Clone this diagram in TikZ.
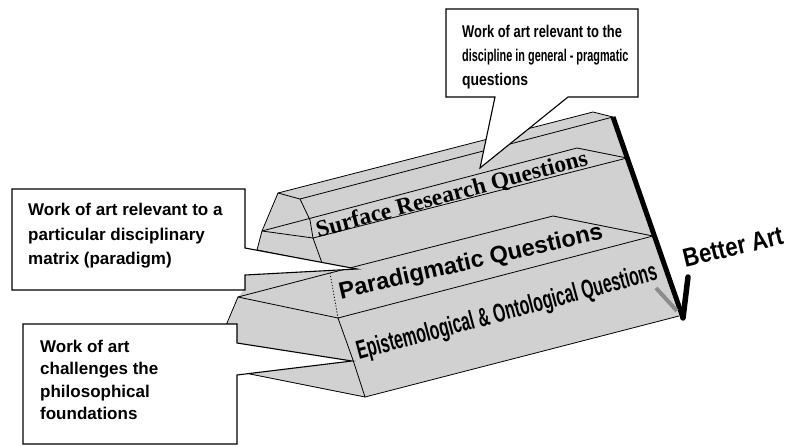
\documentclass[tikz,border=0pt]{standalone}
\usepackage{fontspec}
\setmainfont{Liberation Sans}
\newfontfamily\serifbf{Liberation Serif}
\definecolor{prism}{gray}{0.82}
\definecolor{barb}{gray}{0.55}
\begin{document}
\begin{tikzpicture}[x=1pt,y=-1pt,
  edge/.style={line width=0.8pt,line join=round,line cap=round},
  dotedge/.style={line width=0.8pt,dash pattern=on 1.2pt off 1.8pt},
  callout/.style={draw,line width=1.1pt,fill=white,line join=miter},
  boxtext/.style={anchor=north west,inner sep=0pt,align=left,font=\bfseries\fontsize{17}{24.5}\selectfont},
  toptext/.style={anchor=north west,inner sep=0pt,align=left,font=\bfseries\fontsize{17}{23.8}\selectfont},
  lowtext/.style={anchor=north west,inner sep=0pt,align=left,font=\bfseries\fontsize{17}{22.4}\selectfont},
  tiertext/.style={inner sep=0pt}]
\useasboundingbox (0,0) rectangle (787,445);
% top tier
\coordinate (P1) at (278,193);
\coordinate (P2) at (300,199);
\coordinate (R1) at (310,220);
\coordinate (R2) at (313,238);
\coordinate (P3) at (262,231);
\coordinate (P5) at (257,250);
\coordinate (P6) at (322,263);
\coordinate (TA1) at (593,112);
\coordinate (TA2) at (613,117);
\coordinate (TC1) at (577,148);
\coordinate (TC2) at (627,158);
% middle tier
\coordinate (Q2) at (238,297);
\coordinate (Q1) at (330,273);
\coordinate (QP) at (553,216);
\coordinate (QE) at (653,236);
\coordinate (Q3) at (338,318);
\coordinate (LQ) at (227,323);
% bottom tier
\coordinate (B1) at (353,360);
\coordinate (B2) at (365,397);
\coordinate (B3) at (245,373);
\coordinate (BE) at (679,316);
% arrow
\coordinate (AT) at (683,318);
% silhouette fill
\fill[prism] (P1) -- (TA1) -- (TA2) -- (BE) -- (B2) -- (B3) -- (230,373) -- (222,340) -- (LQ) -- (Q2) -- (244,290) -- (244,250) -- (P5) -- (P3) -- cycle;
% top tier edges
\draw[edge] (P1) -- (TA1) -- (TA2);
\draw[edge] (P2) -- (TA2);
\draw[edge] (P3) -- (TC1) -- (TC2);
\draw[edge] (R2) -- (TC2);
\draw[edge] (P1) -- (P2) -- (R1) -- (R2) -- (P6) -- (P5) -- (P3) -- cycle;
\draw[edge] (P3) -- (R2);
% middle tier edges
\draw[edge] (Q2) -- (Q1) -- (QP) -- (QE);
\draw[edge] (Q3) -- (QE);
\draw[edge] (Q2) -- (Q3);
\draw[dotedge] (Q1) -- (Q3);
\draw[edge] (Q2) -- (LQ) -- (222,340);
% bottom tier edges
\draw[edge] (Q3) -- (B1) -- (B2);
\draw[edge] (B3) -- (B2) -- (BE);
% tier labels
\node[tiertext,rotate=15] (surf) at (452,195) {\resizebox{280pt}{!}{\serifbf\bfseries Surface Research Questions}};
\node[tiertext,rotate=12.9] (para) at (471,263) {\resizebox{270pt}{!}{\bfseries Paradigmatic Questions}};
\node[tiertext,rotate=15] (epis) at (507,313) {\resizebox{310pt}{19pt}{\bfseries Epistemological \& Ontological Questions}};
% arrow
\draw[line width=5pt] (TA2) -- (AT);
\draw[line width=5.5pt,line cap=round] (688,277) -- (AT);
\draw[barb,line width=4pt] (656,288) -- (677,311);
\node[tiertext,rotate=13.5] (better) at (733,247) {\resizebox{102pt}{18pt}{\bfseries Better Art}};
% callouts
\draw[callout] (446,9) -- (638,9) -- (638,97) -- (568,97) -- (480,168) -- (495,97) -- (446,97) -- cycle;
\draw[callout] (12,189) -- (245,189) -- (245,248) -- (357,269) -- (245,275) -- (245,290) -- (12,290) -- cycle;
\draw[callout] (23,324) -- (237,324) -- (237,343) -- (352,361) -- (237,375) -- (237,444) -- (23,444) -- cycle;
\node[toptext] (ttop) at (462,25) {\scalebox{0.76}[1]{Work of art relevant to the}\\\scalebox{0.64}[1]{discipline in general - pragmatic}\\\scalebox{0.82}[1]{questions}};
\node[boxtext] (tmid) at (28,203) {Work of art relevant to a\\particular disciplinary\\matrix (paradigm)};
\node[lowtext] (tlow) at (40,340) {Work of art\\challenges the\\philosophical\\foundations};
\end{tikzpicture}
\end{document}
